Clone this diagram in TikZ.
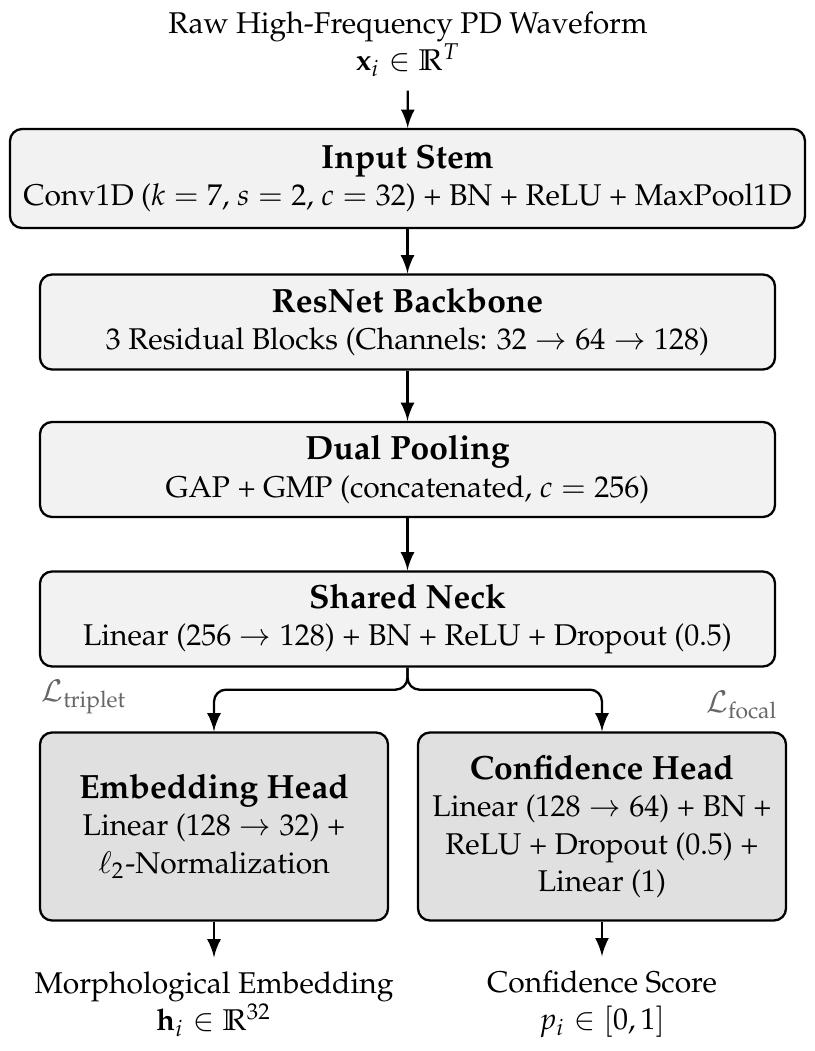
\documentclass[tikz,border=0pt]{standalone}
\usepackage[T1]{fontenc}
\usepackage{mathpazo}
\usepackage{amsmath,amssymb}
\usetikzlibrary{shapes,arrows,positioning}

\newcommand{\blocktitle}[1]{{\fontsize{8.4}{10}\selectfont\bfseries #1}}

\begin{document}
\begin{tikzpicture}[x=0.25pt,y=-0.25pt,
    font=\fontsize{7.5}{9.3}\selectfont,
    block/.style={rectangle, rounded corners=3pt, draw, line width=0.58pt, fill=gray!10, align=center, text centered, minimum width=183.75pt, minimum height=23.75pt, inner sep=1pt},
    head/.style={block, fill=gray!24, minimum width=87pt, minimum height=47pt},
    arrow/.style={->,>=latex,line width=0.58pt},
    loss/.style={text=gray!80!black}]
\useasboundingbox (0,0) rectangle (815,1051);

% Blocks
\node[align=center] (raw) at (408,44) {Raw High-Frequency PD Waveform\\ $\mathbf{x}_i \in \mathbb{R}^T$};
\node[block, minimum width=198.75pt, minimum height=24.75pt] (stem) at (407.5,178.5) {\blocktitle{Input Stem}\\ Conv1D ($k=7$, $s=2$, $c=32$) + BN + ReLU + MaxPool1D};
\node[block] (backbone) at (407.5,322) {\blocktitle{ResNet Backbone}\\ 3 Residual Blocks (Channels: $32 \rightarrow 64 \rightarrow 128$)};
\node[block] (pooling) at (407.5,469.5) {\blocktitle{Dual Pooling}\\ GAP + GMP (concatenated, $c=256$)};
\node[block] (neck) at (407.5,619) {\blocktitle{Shared Neck}\\ Linear ($256 \rightarrow 128$) + BN + ReLU + Dropout (0.5)};
\node[head] (embed) at (214,826.5) {\blocktitle{Embedding Head}\\ Linear ($128 \rightarrow 32$) +\\ $\ell_2$-Normalization};
\node[head, minimum width=92pt] (conf) at (602,826.5) {\blocktitle{Confidence Head}\\ Linear ($128 \rightarrow 64$) + BN +\\ ReLU + Dropout (0.5) +\\ Linear (1)};
\node[align=center] (embout) at (214,1004) {Morphological Embedding\\ $\mathbf{h}_i \in \mathbb{R}^{32}$};
\node[align=center] (confout) at (602,1004) {Confidence Score\\ $p_i \in [0,1]$};

% Connections
\draw[arrow] (raw) -- (stem);
\draw[arrow] (stem) -- (backbone);
\draw[arrow] (backbone) -- (pooling);
\draw[arrow] (pooling) -- (neck);
\draw[arrow, rounded corners=3pt] (neck.south) -- ++(0,22) -| (embed.north);
\draw[arrow, rounded corners=3pt] (neck.south) -- ++(0,22) -| (conf.north);
\draw[arrow] (embed) -- (embout);
\draw[arrow] (conf) -- (confout);

% Labels
\node[loss] (ltriplet) at (84,697) {$\mathcal{L}_{\text{triplet}}$};
\node[loss] (lfocal) at (742,705) {$\mathcal{L}_{\text{focal}}$};
\end{tikzpicture}
\end{document}
